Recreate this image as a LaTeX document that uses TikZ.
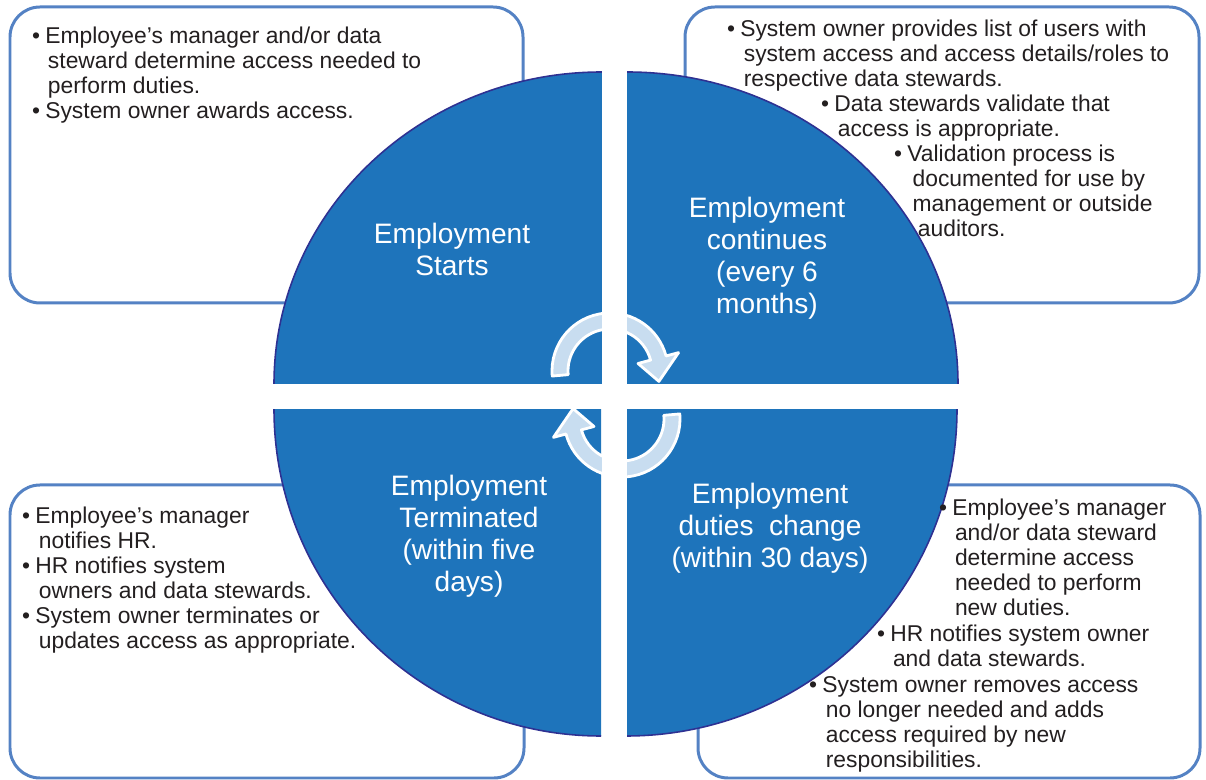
\documentclass[tikz,border=0pt]{standalone}
\usepackage{fontspec}
\setmainfont{Liberation Sans}
\usepackage{xcolor}
\usepackage{tikz}
\definecolor{quadblue}{RGB}{30,116,187}
\definecolor{rimnavy}{RGB}{46,49,146}
\definecolor{boxblue}{RGB}{84,130,196}
\definecolor{ringblue}{RGB}{200,221,240}
\definecolor{inkgray}{RGB}{35,31,32}
\newcommand\itembullet{\llap{\textbullet\hspace{3pt}}}
\tikzset{>=stealth}
\tikzset{
  infobox/.style={draw=boxblue, line width=1.7pt, fill=white, rounded corners=0.6cm},
  quad/.style={fill=quadblue},
  rim/.style={draw=rimnavy, line width=0.9pt},
  ringarrow/.style={fill=ringblue, draw=white, line width=1.6pt, line join=round},
  phase/.style={text=white, align=center, anchor=north, inner sep=0pt, font=\fontsize{16}{18.2}\selectfont},
  item/.style={text=inkgray, align=left, anchor=north west, inner sep=0pt, font=\fontsize{13}{14.2}\selectfont}
}

\begin{document}
\begin{tikzpicture}[x=0.02cm, y=0.02cm]
      \useasboundingbox (0,0) rectangle (1206,780);
      \draw[infobox] (10,477) rectangle (523,773);
      \draw[infobox] (685,477) rectangle (1199,773);
      \draw[infobox] (10,2) rectangle (524,295);
      \draw[infobox] (698,2) rectangle (1200,295);
      \fill[quad] (602,396) -- (274,396) arc[start angle=180, end angle=90, x radius=328, y radius=312] -- cycle;
      \draw[rim] (274,396) arc[start angle=180, end angle=90, x radius=328, y radius=312];
      \fill[quad] (627,396) -- (627,708) arc[start angle=90, end angle=0, x radius=331, y radius=312] -- cycle;
      \draw[rim] (627,708) arc[start angle=90, end angle=0, x radius=331, y radius=312];
      \fill[quad] (626,371) -- (957,371) arc[start angle=0, end angle=-90, x radius=331, y radius=327] -- cycle;
      \draw[rim] (957,371) arc[start angle=0, end angle=-90, x radius=331, y radius=327];
      \fill[quad] (601,371) -- (601,44) arc[start angle=270, end angle=180, x radius=327, y radius=327] -- cycle;
      \draw[rim] (601,44) arc[start angle=270, end angle=180, x radius=327, y radius=327];
      \draw[ringarrow, shift={(610,409)}] (185:58) arc[start angle=185, end angle=15, radius=58] -- (15:71) -- (-12:50) -- (15:29) -- (15:42) arc[start angle=15, end angle=185, radius=42] -- cycle;
      \draw[ringarrow, shift={(622,361)}] (5:58) arc[start angle=5, end angle=-165, radius=58] -- (-165:71) -- (168:50) -- (-165:29) -- (-165:42) arc[start angle=-165, end angle=5, radius=42] -- cycle;
      \fill[white] (601.5,30) rectangle (626.5,722);
      \fill[white] (262,371) rectangle (972,396);
      \node[phase] (starts) at (452,557) {Employment\\Starts};
      \node[phase] (continues) at (767,583) {Employment\\continues\\(every 6\\months)};
      \node[phase] (changes) at (770,297) {Employment\\duties\ \ change\\(within 30 days)};
      \node[phase] (terminated) at (469,305) {Employment\\Terminated\\(within five\\days)};
      \node[item] (startA) at (45,753) {\itembullet Employee’s manager and/or data\\\hspace{1.5pt}steward determine access needed to\\\hspace{1.5pt}perform duties.};
      \node[item] (startB) at (45,678) {\itembullet System owner awards access.};
      \node[item] (contA) at (740,760) {\itembullet System owner provides list of users with\\\hspace{2pt}system access and access details/roles to\\\hspace{2pt}respective data stewards.};
      \node[item] (contB) at (834,685) {\itembullet Data stewards validate that\\\hspace{2pt}access is appropriate.};
      \node[item] (contC) at (907,635) {\itembullet Validation process is\\\hspace{3pt}documented for use by\\\hspace{3pt}management or outside\\\hspace{6pt}auditors.};
      \node[item] (chgA) at (952,281) {\itembullet Employee’s manager\\\hspace{1.5pt}and/or data steward\\\hspace{1.5pt}determine access\\\hspace{1.5pt}needed to perform\\\hspace{1.5pt}new duties.};
      \node[item] (chgB) at (890,155) {\itembullet HR notifies system owner\\\hspace{1.5pt}and data stewards.};
      \node[item] (chgC) at (822,104) {\itembullet System owner removes access\\\hspace{2pt}no longer needed and adds\\\hspace{2pt}access required by new\\\hspace{2pt}responsibilities.};
      \node[item] (termA) at (35,273) {\itembullet Employee’s manager\\\hspace{2pt}notifies HR.};
      \node[item] (termB) at (35,223) {\itembullet HR notifies system\\\hspace{2pt}owners and data stewards.};
      \node[item] (termC) at (35,173) {\itembullet System owner terminates or\\\hspace{2pt}updates access as appropriate.};
\end{tikzpicture}
\end{document}
